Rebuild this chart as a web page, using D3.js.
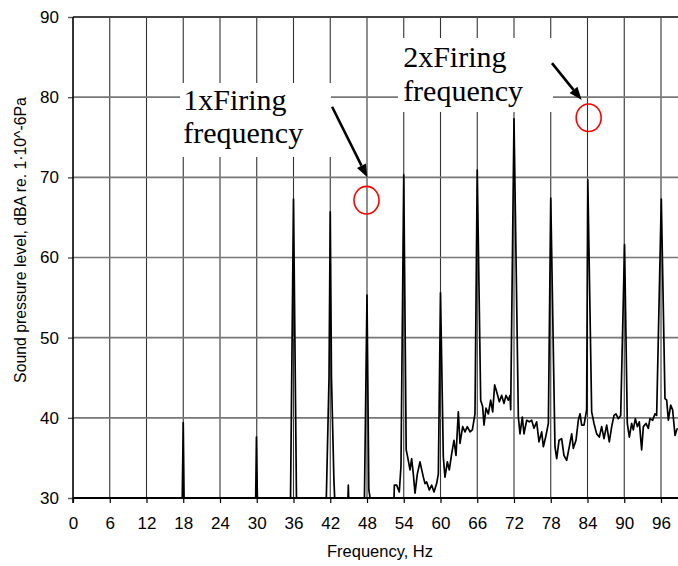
<!DOCTYPE html>
<html>
<head>
<meta charset="utf-8">
<script src="https://cdn.jsdelivr.net/npm/d3@7"></script>
<style>
  body { margin: 0; background: #fff; }
  svg { display: block; }
  .tick text { font-family: "Liberation Sans", Arial, sans-serif; font-size: 17px; fill: #000; }
</style>
</head>
<body>
<svg id="chart" width="678" height="566"></svg>
<script>
// spectrum (values under 30 dB fall below the axis and are clipped)
const freqHz = [
  0, 17.75, 18.0, 18.2, 29.75, 29.95, 30.2, 35.45, 36.0, 36.55,
  41.2, 41.4, 41.8, 42.0, 42.2, 42.6, 43.0, 44.7, 44.95, 45.2,
  47.5, 48.0, 48.3, 48.45, 48.6, 52.3, 52.46, 52.84, 53.27, 53.55,
  54.0, 54.4, 54.64, 55.02, 55.29, 55.56, 55.84, 56.22, 56.65, 57.2,
  57.47, 57.74, 58.18, 58.56, 58.94, 59.37, 59.65, 60.0, 60.46, 60.73,
  61.12, 61.44, 61.82, 62.2, 62.53, 62.91, 63.18, 63.62, 64.0, 64.38,
  64.82, 65.2, 65.63, 66.0, 66.56, 66.88, 67.1, 67.43, 67.81, 68.19,
  68.52, 68.84, 69.17, 69.61, 69.99, 70.37, 70.69, 71.07, 71.35, 71.46,
  72.0, 72.71, 72.98, 73.36, 73.63, 74.07, 74.5, 74.88, 75.27, 75.7,
  76.08, 76.52, 76.79, 77.17, 77.61, 78.0, 78.69, 78.97, 79.35, 79.78,
  80.16, 80.6, 81.03, 81.42, 81.69, 82.12, 82.5, 82.78, 83.05, 83.43,
  83.86, 84.05, 84.68, 85.06, 85.5, 85.93, 86.31, 86.69, 87.13, 87.56,
  87.95, 88.33, 88.65, 89.03, 89.42, 90.05, 90.5, 90.83, 91.21, 91.48,
  91.81, 92.14, 92.46, 92.84, 93.12, 93.55, 93.93, 94.2, 94.64, 95.02,
  95.29, 96.05, 96.65, 96.93, 97.2, 97.58, 97.9, 98.29, 98.56, 98.72
];
const levelDb = [
  25, 25, 39.4, 25, 25, 37.6, 25, 25, 67.3, 25,
  25, 31.4, 45, 65.7, 45, 32.2, 25, 25, 31.6, 25,
  25, 55.3, 31, 30.3, 25, 25, 31.6, 31.6, 30.75, 34,
  70.3, 36, 35.1, 33.5, 34.9, 33.0, 30.6, 33.0, 34.5, 32.6,
  31.8, 32.0, 31.0, 31.6, 30.75, 31.8, 33.0, 55.6, 35.1, 32.6,
  34.5, 33.5, 35.5, 37.2, 35.3, 40.75, 36.8, 38.9, 38.25, 38.9,
  38.25, 38.5, 40.5, 70.9, 42.2, 41.4, 39.1, 41.2, 40.5, 42.2,
  40.75, 44.1, 43.25, 42.0, 42.8, 41.8, 42.8, 42.2, 42.8, 41.0,
  77.3, 40.1, 38.0, 40.1, 38.0, 39.7, 39.5, 39.7, 38.7, 39.5,
  37.0, 38.25, 36.4, 37.6, 39.3, 67.4, 36.4, 34.9, 37.2, 37.4,
  35.3, 34.7, 36.4, 38.0, 36.2, 37.2, 39.7, 40.5, 39.1, 39.1,
  41.0, 69.7, 40.75, 39.3, 38.0, 37.6, 38.9, 37.4, 39.1, 37.0,
  38.9, 40.3, 40.5, 39.9, 40.3, 61.6, 39.3, 37.6, 39.3, 38.5,
  39.9, 38.9, 39.5, 36.0, 38.9, 39.3, 38.7, 39.9, 39.7, 40.5,
  40.3, 67.3, 42.4, 42.2, 39.7, 41.6, 41.0, 37.8, 38.5, 38.7
];

const xTicks = d3.range(0, 97, 6);
const yTicks = [30, 40, 50, 60, 70, 80, 90];

// annotations, in data units
const noteLines = [["1xFiring", "frequency"], ["2xFiring", "frequency"]];
const noteText = [[18.0, 78.4, 74.25], [53.9, 83.75, 79.5]];      // x, first baseline, second baseline
const noteBox = [[17.47, 42.12, 81.77, 72.54], [53.06, 78.37, 87.38, 78.15]]; // x0, x1, top, bottom
const arrows = [[42.3, 78.8, 48.05, 70.0], [78.2, 84.25, 83.05, 79.65]];
const rings = [[47.92, 67.15], [84.19, 77.43]];

const svg = d3.select('#chart');
const plotLeft = 73, plotTop = 17, plotBottom = 498, plotRight = 678;

const x = d3.scaleLinear().domain([0, 100]).range([plotLeft, plotLeft + 100 * 6.125]);
const y = d3.scaleLinear().domain([30, 90]).range([plotBottom, plotTop]);

svg.append('defs').append('clipPath').attr('id', 'plot-clip')
  .append('rect').attr('x', plotLeft).attr('y', plotTop)
  .attr('width', plotRight - plotLeft).attr('height', plotBottom - plotTop);

// vertical grid
svg.append('g').selectAll('line').data(xTicks.slice(1)).join('line')
  .attr('x1', d => x(d)).attr('x2', d => x(d))
  .attr('y1', plotTop).attr('y2', plotBottom)
  .attr('stroke', '#333').attr('stroke-width', 1.1);

// horizontal grid
svg.append('g').selectAll('line').data(yTicks.slice(1)).join('line')
  .attr('x1', plotLeft).attr('x2', plotRight)
  .attr('y1', d => y(d)).attr('y2', d => y(d))
  .attr('stroke', d => d === 90 ? '#444' : '#777').attr('stroke-width', d => d === 90 ? 2 : 1.6);

// label boxes hide the grid behind the text
svg.append('g').selectAll('rect').data(noteBox).join('rect')
  .attr('x', d => x(d[0])).attr('y', d => y(d[2]))
  .attr('width', d => x(d[1]) - x(d[0])).attr('height', d => y(d[3]) - y(d[2]))
  .attr('fill', '#fff');

// spectrum
const pts = freqHz.map((f, i) => [f, levelDb[i]]);
svg.append('path')
  .datum(pts)
  .attr('clip-path', 'url(#plot-clip)')
  .attr('d', d3.line().x(d => x(d[0])).y(d => y(d[1])))
  .attr('fill', 'none')
  .attr('stroke', '#000')
  .attr('stroke-width', 1.7)
  .attr('stroke-linejoin', 'round');

// axes
const xAxis = svg.append('g').attr('transform', `translate(0,${plotBottom})`)
  .call(d3.axisBottom(x).tickValues(xTicks).tickSize(5).tickPadding(14).tickSizeOuter(0));
xAxis.select('.domain').remove();
xAxis.selectAll('.tick line').attr('stroke', '#000').attr('stroke-width', 1.2);
svg.append('line').attr('x1', plotLeft).attr('x2', plotRight).attr('y1', plotBottom).attr('y2', plotBottom)
  .attr('stroke', '#000').attr('stroke-width', 1.8);

const yAxis = svg.append('g').attr('transform', `translate(${plotLeft},0)`)
  .call(d3.axisLeft(y).tickValues(yTicks).tickSize(5).tickPadding(9).tickSizeOuter(0));
yAxis.select('.domain').remove();
yAxis.selectAll('.tick line').attr('stroke', '#555').attr('stroke-width', 1.4);
svg.append('line').attr('x1', plotLeft).attr('x2', plotLeft).attr('y1', plotTop).attr('y2', plotBottom + 5)
  .attr('stroke', '#000').attr('stroke-width', 1.6);

// axis titles
svg.append('text')
  .attr('x', 380).attr('y', 557)
  .attr('text-anchor', 'middle')
  .style('font-family', '"Liberation Sans", Arial, sans-serif').style('font-size', '16.5px')
  .text('Frequency, Hz');

svg.append('text')
  .attr('transform', 'translate(26,240) rotate(-90)')
  .attr('text-anchor', 'middle')
  .style('font-family', '"Liberation Sans", Arial, sans-serif').style('font-size', '15.8px')
  .text('Sound pressure level, dBA re. 1·10^-6Pa');

// annotation text
noteLines.forEach((lines, i) => {
  const t = noteText[i];
  lines.forEach((s, j) => {
    svg.append('text')
      .attr('x', x(t[0])).attr('y', y(t[1 + j]))
      .style('font-family', '"Liberation Serif", "Times New Roman", serif').style('font-size', '30px')
      .text(s);
  });
});

// arrows
arrows.forEach(a => {
  const x1 = x(a[0]), y1 = y(a[1]), x2 = x(a[2]), y2 = y(a[3]);
  const ang = Math.atan2(y2 - y1, x2 - x1);
  const len = 13, half = 5;
  const bx = x2 - len * Math.cos(ang), by = y2 - len * Math.sin(ang);
  svg.append('line')
    .attr('x1', x1).attr('y1', y1).attr('x2', bx).attr('y2', by)
    .attr('stroke', '#000').attr('stroke-width', 2.6);
  const px = -Math.sin(ang) * half, py = Math.cos(ang) * half;
  svg.append('path')
    .attr('d', `M${x2},${y2}L${bx + px},${by + py}L${bx - px},${by - py}Z`)
    .attr('fill', '#000');
});

// red rings
svg.append('g').selectAll('ellipse').data(rings).join('ellipse')
  .attr('cx', d => x(d[0])).attr('cy', d => y(d[1]))
  .attr('rx', 12.5).attr('ry', 13.8)
  .attr('fill', 'none').attr('stroke', '#f00').attr('stroke-width', 1.6);
</script>
</body>
</html>
